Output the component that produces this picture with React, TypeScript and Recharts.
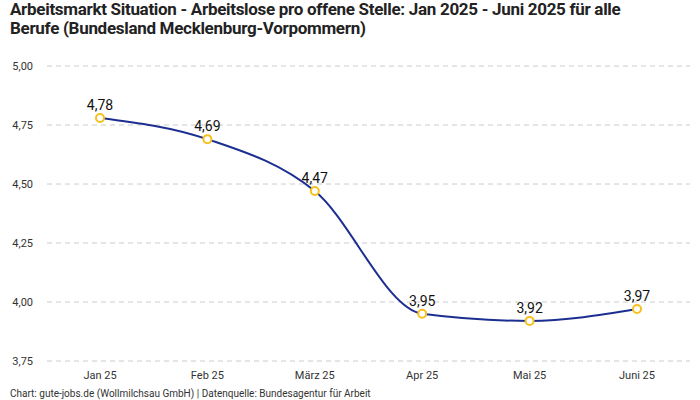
import React from 'react';
import { LineChart, Line, XAxis, YAxis, CartesianGrid, LabelList } from 'recharts';

const months = ['Jan 25', 'Feb 25', 'März 25', 'Apr 25', 'Mai 25', 'Juni 25'];
const values = [4.78, 4.69, 4.47, 3.95, 3.92, 3.97];
const yTicks = [3.75, 4.0, 4.25, 4.5, 4.75, 5.0];

const data = months.map((m, i) => ({ month: m, value: values[i] }));
const fmt = (v: number) => v.toFixed(2).replace('.', ',');

export default function App() {
  return (
    <div style={{ position: 'absolute', left: 0, top: 0, width: 700, height: 400, background: '#fff', fontFamily: 'Roboto, sans-serif' }}>
      <div style={{ position: 'absolute', left: 10, top: 0, fontSize: 17, fontWeight: 700, lineHeight: '19px', color: '#222', letterSpacing: -0.3 }}>
        Arbeitsmarkt Situation - Arbeitslose pro offene Stelle: Jan 2025 - Juni 2025 für alle
        <br />
        Berufe (Bundesland Mecklenburg-Vorpommern)
      </div>
      <div style={{ position: 'absolute', left: 0, top: 0 }}>
        <LineChart width={700} height={400} data={data} margin={{ top: 66, right: 10, bottom: 9, left: 0 }}>
          <CartesianGrid vertical={false} stroke="#cccccc" strokeDasharray="5 4" />
          <XAxis dataKey="month" axisLine={false} tickLine={false} height={30} padding={{ left: 53, right: 53 }} tick={{ fill: '#333', fontSize: 11 }} tickMargin={4} />
          <YAxis domain={[3.75, 5]} ticks={yTicks} tickFormatter={fmt} axisLine={false} tickLine={false} width={47} tickMargin={8} tick={{ fill: '#333', fontSize: 11 }} interval={0} />
          <Line type="monotone" dataKey="value" stroke="#1c2f91" strokeWidth={2} isAnimationActive={false}
            dot={{ r: 4, stroke: '#f7c01d', strokeWidth: 2, fill: '#fff' }} activeDot={false}>
            <LabelList dataKey="value" position="top" offset={8} formatter={(v: any) => fmt(Number(v))} style={{ fill: '#111', fontSize: 14, fontWeight: 400 }} />
          </Line>
        </LineChart>
      </div>
      <div style={{ position: 'absolute', left: 10, top: 388, fontSize: 10, color: '#333', whiteSpace: 'nowrap' }}>
        Chart: gute-jobs.de (Wollmilchsau GmbH) | Datenquelle: Bundesagentur für Arbeit
      </div>
    </div>
  );
}
